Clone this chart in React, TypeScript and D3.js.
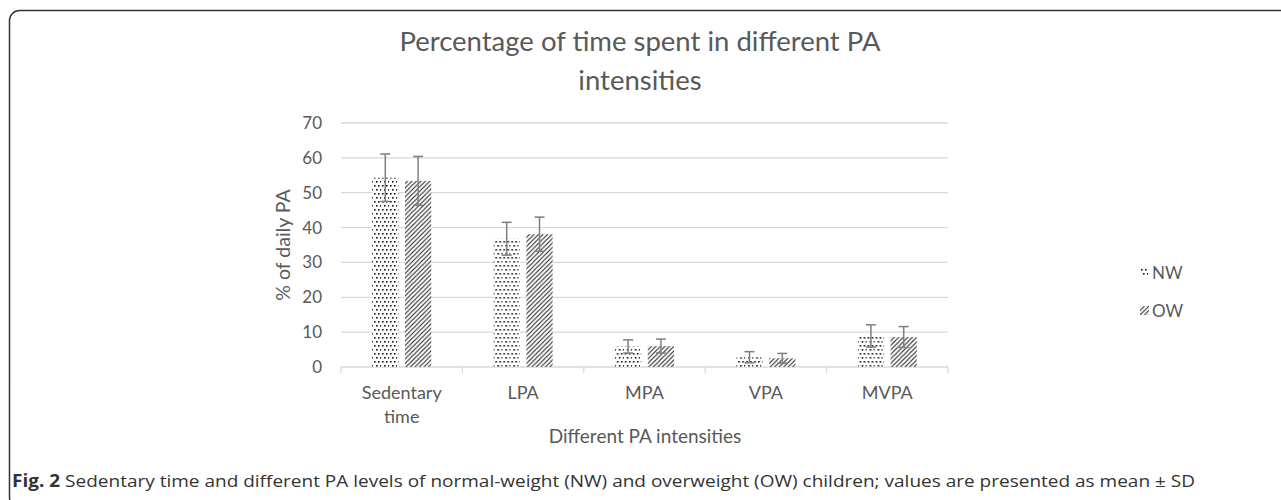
import * as d3 from 'd3'

const categories = ['Sedentary time', 'LPA', 'MPA', 'VPA', 'MVPA']
const series = ['NW', 'OW']
const nwMean = [54.3, 36.8, 5.9, 2.8, 8.9]
const nwSd = [6.8, 4.7, 1.9, 1.6, 3.2]
const owMean = [53.4, 38.1, 6.0, 2.5, 8.6]
const owSd = [7.0, 4.9, 2.0, 1.4, 3.0]
const yTicks = [0, 10, 20, 30, 40, 50, 60, 70]

const W = 1281
const H = 500
const PLOT = { left: 341, right: 948, top: 123, bottom: 367 }
const GREY = '#595959'
const FONT = 'Lato, "Open Sans", sans-serif'

export default function App() {
  const x = d3.scaleBand().domain(categories).range([PLOT.left, PLOT.right])
  const xs = d3.scaleBand().domain(series).range([0, x.bandwidth()]).paddingInner(0.2).paddingOuter(0.95)
  const y = d3.scaleLinear().domain([0, 70]).range([PLOT.bottom, PLOT.top])

  const rows = categories.map((c, i) => ({
    c,
    vals: [
      { s: 'NW', m: nwMean[i], sd: nwSd[i] },
      { s: 'OW', m: owMean[i], sd: owSd[i] },
    ],
  }))

  const fill = (s: string) => (s === 'NW' ? 'url(#dots)' : 'url(#diag)')

  return (
    <svg width={W} height={H} style={{ position: 'absolute', left: 0, top: 0, background: '#fff' }}>
      <defs>
        <pattern id="dots" width={8} height={8} patternUnits="userSpaceOnUse">
          <rect width={8} height={8} fill="#fff" />
          <rect x={1} y={1} width={1.6} height={1.6} fill="#111" />
          <rect x={5} y={1} width={1.6} height={1.6} fill="#111" />
          <rect x={3} y={5} width={1.6} height={1.6} fill="#111" />
          <rect x={7} y={5} width={1.6} height={1.6} fill="#111" />
        </pattern>
        <pattern id="diag" width={4.5} height={4.5} patternUnits="userSpaceOnUse">
          <rect width={4.5} height={4.5} fill="#fff" />
          <path d="M-1,1 l2,-2 M0,4.5 l4.5,-4.5 M3.5,5.5 l2,-2" stroke="#222" strokeWidth={1.1} />
        </pattern>
      </defs>

      {/* frame */}
      <rect x={9.5} y={10.5} width={1300} height={497} rx={10} fill="none" stroke="#333" strokeWidth={1.5} />

      {/* title */}
      <text x={640} y={51} textAnchor="middle" fontFamily={FONT} fontSize={27.5} fill={GREY}>
        Percentage of time spent in different PA
      </text>
      <text x={640} y={90} textAnchor="middle" fontFamily={FONT} fontSize={27.5} fill={GREY}>
        intensities
      </text>

      {/* gridlines + y ticks */}
      {yTicks.map(t => (
        <g key={t}>
          <line x1={PLOT.left} x2={PLOT.right} y1={y(t)} y2={y(t)} stroke="#d9d9d9" strokeWidth={1.3} />
          <text x={322} y={y(t) + 6} textAnchor="end" fontFamily={FONT} fontSize={17} fill={GREY}>
            {t}
          </text>
        </g>
      ))}

      {/* x tick marks */}
      {[...categories.map(c => x(c)!), PLOT.right].map((v, i) => (
        <line key={i} x1={v} x2={v} y1={PLOT.bottom} y2={PLOT.bottom + 6} stroke="#d9d9d9" strokeWidth={1.3} />
      ))}

      {/* bars + error bars */}
      {rows.map(r => (
        <g key={r.c} transform={`translate(${x(r.c)},0)`}>
          {r.vals.map(v => {
            const bx = xs(v.s)!
            const cx = bx + xs.bandwidth() / 2
            return (
              <g key={v.s}>
                <rect x={bx} y={y(v.m)} width={xs.bandwidth()} height={y(0) - y(v.m)} fill={fill(v.s)} />
                <line x1={cx} x2={cx} y1={y(v.m + v.sd)} y2={y(v.m - v.sd)} stroke="#7f7f7f" strokeWidth={1.5} />
                <line x1={cx - 5} x2={cx + 5} y1={y(v.m + v.sd)} y2={y(v.m + v.sd)} stroke="#7f7f7f" strokeWidth={1.5} />
                <line x1={cx - 5} x2={cx + 5} y1={y(v.m - v.sd)} y2={y(v.m - v.sd)} stroke="#7f7f7f" strokeWidth={1.5} />
              </g>
            )
          })}
        </g>
      ))}

      {/* category labels */}
      {categories.map(c => {
        const words = c === 'Sedentary time' ? ['Sedentary', 'time'] : [c]
        return (
          <text key={c} x={x(c)! + x.bandwidth() / 2} y={399} textAnchor="middle" fontFamily={FONT} fontSize={18} fill={GREY}>
            {words.map((w, i) => (
              <tspan key={i} x={x(c)! + x.bandwidth() / 2} dy={i === 0 ? 0 : 24}>{w}</tspan>
            ))}
          </text>
        )
      })}

      {/* axis titles */}
      <text x={645} y={443} textAnchor="middle" fontFamily={FONT} fontSize={19} fill={GREY}>
        Different PA intensities
      </text>
      <text transform={`translate(290,${(PLOT.top + PLOT.bottom) / 2}) rotate(-90)`} textAnchor="middle" fontFamily={FONT} fontSize={19.5} fill={GREY}>
        % of daily PA
      </text>

      {/* legend */}
      {series.map((s, i) => (
        <g key={s} transform={`translate(1140,${268 + i * 38})`}>
          <rect x={0} y={0} width={9} height={9} fill={fill(s)} />
          <text x={12} y={11} fontFamily={FONT} fontSize={17} fill={GREY}>{s}</text>
        </g>
      ))}

      {/* caption */}
      <text x={12} y={487} fontFamily='"Open Sans", sans-serif' fontSize={17} fill="#333" textLength={1183} lengthAdjust="spacingAndGlyphs">
        <tspan fontWeight="bold">Fig. 2</tspan> Sedentary time and different PA levels of normal-weight (NW) and overweight (OW) children; values are presented as mean ± SD
      </text>
    </svg>
  )
}
